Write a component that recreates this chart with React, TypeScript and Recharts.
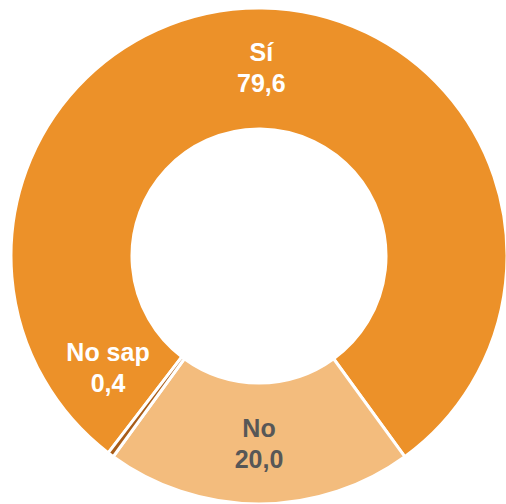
import { PieChart, Pie, Cell } from "recharts";

const categories = ["Sí", "No", "No sap"];
const values = [79.6, 20.0, 0.4];
const colors = ["#EC9129", "#F3BC7D", "#A85C18"];
const labelColors = ["#FFFFFF", "#575757", "#FFFFFF"];
// the tiny slice's label is nudged away from its slice, as in the original
const labelAngleShift = [0, 0, -16.7];

const data = categories.map((name, i) => ({ name, value: values[i] }));

const RAD = Math.PI / 180;

const fmt = (v: number) => v.toFixed(1).replace(".", ",");

function renderLabel(props: any) {
  const { cx, cy, midAngle, innerRadius, outerRadius, index } = props;
  const r = (innerRadius + outerRadius) / 2 + 0.5;
  const a = (midAngle + labelAngleShift[index]) * RAD;
  const x = cx + r * Math.cos(a);
  const y = cy - r * Math.sin(a);
  return (
    <text
      x={x}
      y={y}
      textAnchor="middle"
      fill={labelColors[index]}
      fontFamily="'Liberation Sans', Arial, sans-serif"
      fontWeight="bold"
      fontSize={25}
    >
      <tspan x={x} dy={-7}>
        {categories[index]}
      </tspan>
      <tspan x={x} dy={31}>
        {fmt(values[index])}
      </tspan>
    </text>
  );
}

export default function App() {
  return (
    <div style={{ position: "absolute", left: 0, top: 0, width: 506, height: 504 }}>
      <PieChart width={506} height={504} margin={{ top: 0, right: 0, bottom: 0, left: 0 }}>
        <Pie
          data={data}
          dataKey="value"
          nameKey="name"
          cx={259}
          cy={256}
          innerRadius={127}
          outerRadius={248}
          startAngle={232.56}
          endAngle={-127.44}
          stroke="#FFFFFF"
          strokeWidth={3}
          label={renderLabel}
          labelLine={false}
          isAnimationActive={false}
        >
          {data.map((d, i) => (
            <Cell key={d.name} fill={colors[i]} />
          ))}
        </Pie>
      </PieChart>
    </div>
  );
}
